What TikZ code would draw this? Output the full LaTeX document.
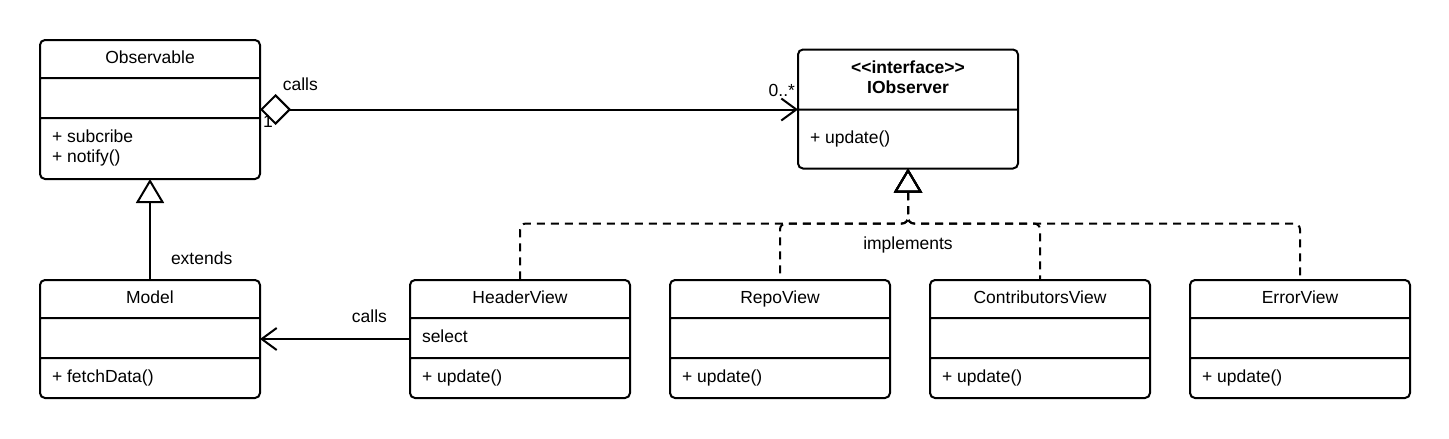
\documentclass[tikz,border=0pt]{standalone}
\usepackage{fontspec}
\setmainfont{Liberation Sans}
\usetikzlibrary{shapes.multipart, arrows.meta, positioning}
\tikzset{
  umlclass/.style={rectangle split, rectangle split parts=3, draw=black, line width=2pt, rounded corners=5pt, inner xsep=12pt, inner ysep=0pt, outer sep=0pt},
  umlface/.style={umlclass, rectangle split parts=2},
  tag/.style={inner sep=2pt},
  assoc/.style={line width=2pt, {Diamond[open,length=31pt,width=31pt]}-{Straight Barb[length=15pt,width=22pt]}},
  uses/.style={line width=2pt, -{Straight Barb[length=15pt,width=22pt]}},
  extends/.style={line width=2pt, -{Triangle[open,length=24pt,width=28pt]}},
  implements/.style={line width=2pt, {Triangle[open,length=24pt,width=28pt]}-, dash pattern=on 8pt off 6pt, rounded corners=6pt}
}
% one compartment of a class box: height (less the 2pt the split adds), then text
\newcommand{\classtitle}[2]{\parbox[c][#1][c]{196pt}{\centering\strut #2\strut}}
\newcommand{\classbody}[2]{\parbox[c][#1][c]{196pt}{\raggedright\strut #2\strut}}

\begin{document}
\begin{tikzpicture}[font=\fontsize{17.5}{20}\selectfont]
\useasboundingbox (0,0) rectangle (1449pt,-439pt);

\node (Observable) [umlclass, anchor=north west] at (40pt,-40pt) {\classtitle{36pt}{Observable}
  \nodepart{two}\classbody{38pt}{}
  \nodepart{three}\classbody{59pt}{+ subcribe\\ + notify()}};
\node (IObserver) [umlface, anchor=text split west] at ([xshift=538pt]Observable.east) {\classtitle{58pt}{\textbf{<\kern0pt<interface>\kern0pt>}\\ \textbf{IObserver}}
  \nodepart{two}\classbody{57pt}{+ update()}};
\node (Model) [umlclass, below=101pt of Observable] {\classtitle{36pt}{Model}
  \nodepart{two}\classbody{38pt}{}
  \nodepart{three}\classbody{38pt}{+ fetchData()}};
\node (HeaderView) [umlclass, right=150pt of Model] {\classtitle{36pt}{HeaderView}
  \nodepart{two}\classbody{38pt}{select}
  \nodepart{three}\classbody{38pt}{+ update()}};
\node (RepoView) [umlclass, right=40pt of HeaderView] {\classtitle{36pt}{RepoView}
  \nodepart{two}\classbody{38pt}{}
  \nodepart{three}\classbody{38pt}{+ update()}};
\node (ContributorsView) [umlclass, right=40pt of RepoView] {\classtitle{36pt}{ContributorsView}
  \nodepart{two}\classbody{38pt}{}
  \nodepart{three}\classbody{38pt}{+ update()}};
\node (ErrorView) [umlclass, right=40pt of ContributorsView] {\classtitle{36pt}{ErrorView}
  \nodepart{two}\classbody{38pt}{}
  \nodepart{three}\classbody{38pt}{+ update()}};

\draw [assoc] (Observable.east) -- node [tag, pos=0.075, above=16pt] {calls} node [tag, pos=0, anchor=north west, yshift=-3pt] {1} node [tag, pos=1, anchor=south east, yshift=10pt] {0..*} (IObserver.text split west);
\draw [extends] (Model) -- node [tag, pos=0.22, right=18pt] {extends} (Observable);
\draw [uses] (HeaderView) -- node [tag, pos=0.27, above=13pt] {calls} (Model);
\draw [implements] (IObserver.south) -- ++(0,-55pt) -| (HeaderView.north);
\draw [implements] (IObserver.south) -- ++(0,-55pt) node [tag, below=10pt] {implements} -| (RepoView.north);
\draw [implements] (IObserver.south) -- ++(0,-55pt) -| (ContributorsView.north);
\draw [implements] (IObserver.south) -- ++(0,-55pt) -| (ErrorView.north);

\end{tikzpicture}
\end{document}
